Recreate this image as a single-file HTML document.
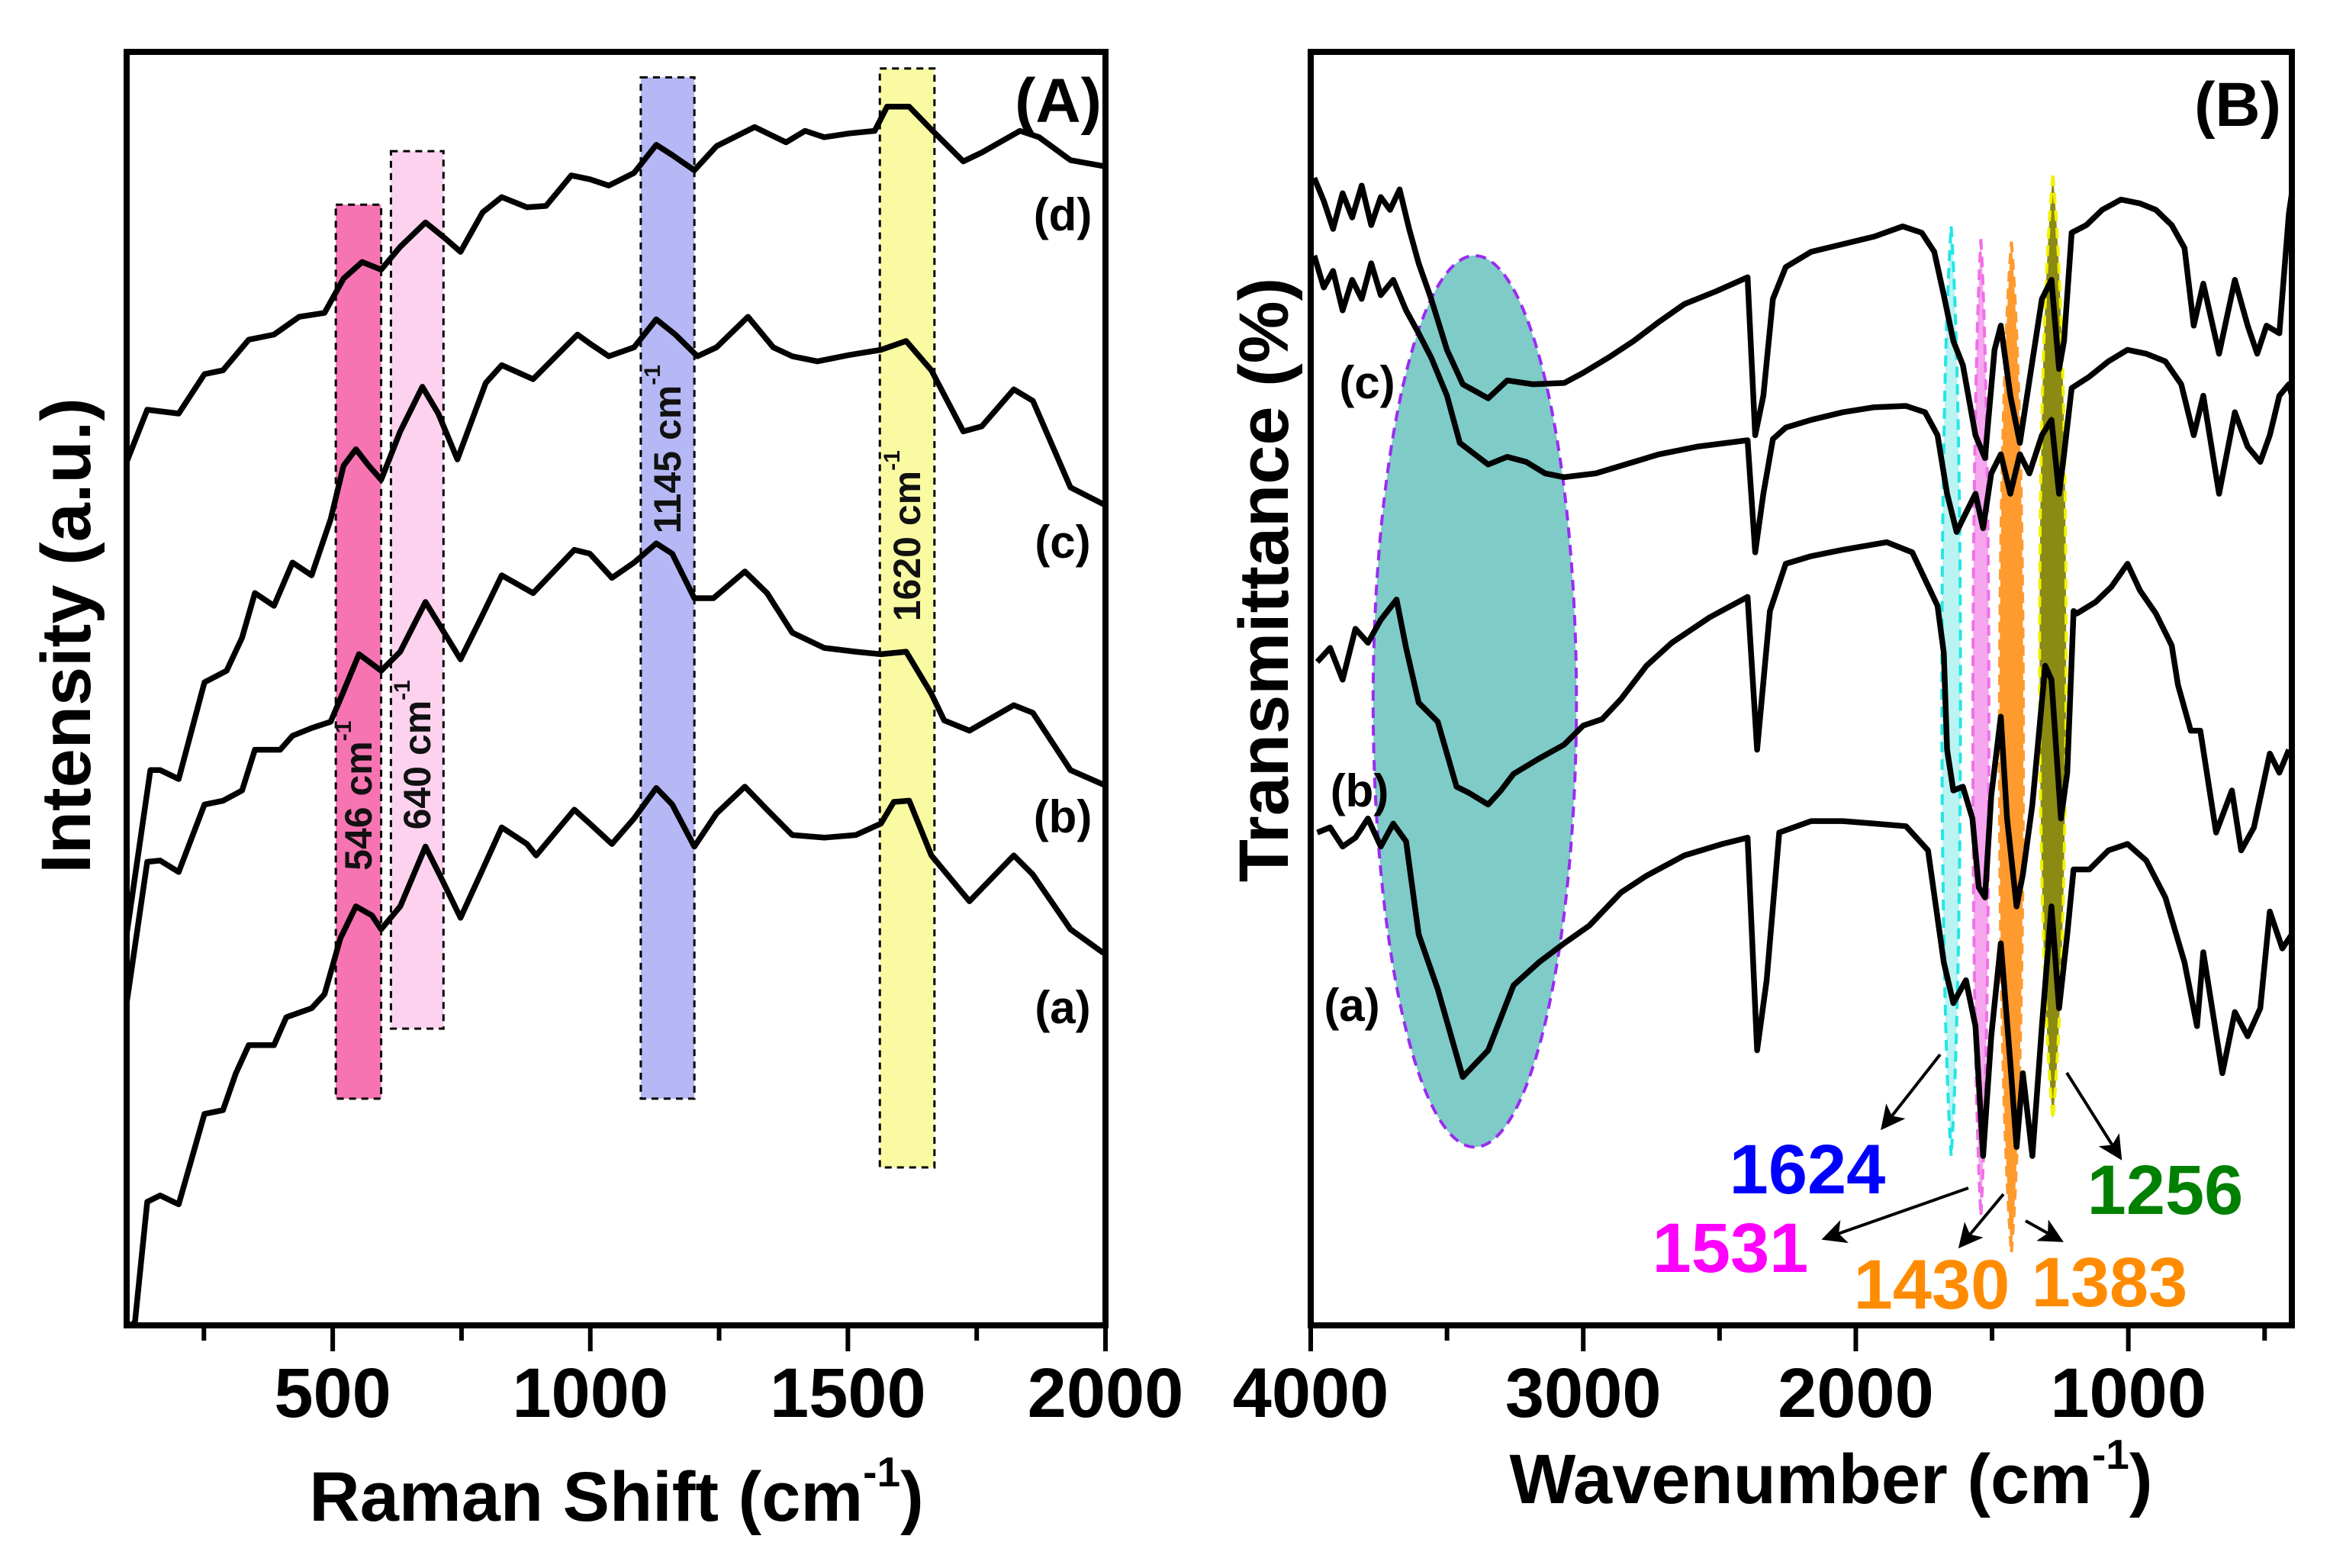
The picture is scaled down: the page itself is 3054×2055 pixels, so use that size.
<!DOCTYPE html>
<html><head><meta charset="utf-8">
<style>
html,body{margin:0;padding:0;background:#fff;}
svg{display:block;font-family:"Liberation Sans",Arial,sans-serif;font-weight:bold;}
</style></head>
<body>
<svg id="fig" width="3054" height="2055" viewBox="0 0 3054 2055" xmlns="http://www.w3.org/2000/svg">
<rect x="0" y="0" width="3054" height="2055" fill="#ffffff"/>
<g id="panelA"></g>
<g id="panelB"></g>
</svg>
<script>
// ---------- Panel A data (Raman) ----------
const ramanXTicks = [500, 1000, 1500, 2000];
const ramanMinorTicks = [250, 750, 1250, 1750];
const ramanA_x = [105,116,140,165,201,251,287,312,337,386,410,459,484,515,545,576,594,631,680,711,748,791,828,877,895,969,999,1042,1085,1128,1159,1202,1245,1300,1343,1392,1454,1515,1564,1589,1619,1662,1736,1822,1859,1932,1994,2000];
const ramanA_y = [0,0.2,9.7,10.2,9.5,16.6,16.9,19.8,22.0,22.0,24.2,24.9,26.0,30.4,32.9,32.2,31.1,32.9,37.6,35.1,32.0,35.8,39.1,37.8,36.9,40.5,39.4,37.8,39.8,42.2,40.9,37.6,40.2,42.3,40.5,38.5,38.3,38.5,39.4,41.1,41.2,36.9,33.3,36.9,35.4,31.1,29.3,29.2];
const ramanB_x = [100,140,165,201,251,287,324,349,398,422,459,496,515,551,594,631,680,748,791,828,889,969,999,1042,1085,1128,1159,1202,1239,1300,1343,1392,1454,1515,1564,1613,1662,1687,1736,1822,1859,1932,1994,2000];
const ramanB_y = [25.3,36.4,36.5,35.6,40.9,41.2,42.0,45.2,45.2,46.3,46.9,47.4,49.2,52.7,51.4,52.9,56.8,52.3,55.8,58.9,57.5,60.9,60.6,58.7,59.9,61.4,60.6,57.1,57.1,59.2,57.5,54.4,53.2,52.9,52.7,52.9,49.6,47.5,46.7,48.7,48.1,43.6,42.5,42.4];
const ramanC_x = [100,146,165,201,251,294,324,349,386,422,459,496,521,545,570,594,631,674,705,742,797,828,889,975,999,1036,1085,1128,1165,1208,1245,1306,1355,1392,1441,1503,1564,1613,1662,1724,1760,1822,1859,1932,2000];
const ramanC_y = [30.7,43.6,43.6,42.9,50.5,51.4,54.0,57.5,56.5,59.9,58.9,63.3,67.5,68.8,67.5,66.4,70.2,73.7,71.6,68.0,74.0,75.4,74.3,77.8,77.1,76.1,76.8,79.0,77.8,76.1,76.8,79.2,76.8,76.1,75.7,76.2,76.6,77.3,75.0,70.2,70.6,73.5,72.6,65.8,64.4];
const ramanD_x = [100,140,201,251,287,337,386,435,484,521,557,594,631,680,717,748,791,828,877,914,963,999,1036,1085,1128,1159,1202,1245,1319,1380,1417,1454,1503,1552,1576,1619,1662,1724,1760,1834,1871,1932,2000];
const ramanD_y = [67.8,71.9,71.6,74.7,75.0,77.4,77.8,79.2,79.5,82.2,83.5,82.9,84.7,86.6,85.4,84.3,87.4,88.6,87.8,87.9,90.3,90.0,89.5,90.5,92.7,91.9,90.7,92.6,94.1,92.9,93.8,93.3,93.6,93.8,95.7,95.7,93.9,91.4,92.1,93.8,93.3,91.5,91.0];
const ramanBandLo = [506, 613, 1098, 1562];
const ramanBandHi = [594, 715, 1202, 1668];
const ramanBandTop = [88.0, 92.2, 98.0, 98.7];
const ramanBandBot = [17.8, 23.3, 17.8, 12.4];
const ramanBandLabels = ["546 cm", "640 cm", "1145 cm", "1620 cm"];
const ramanBandLabelY = [41.6, 44.8, 68.8, 62.0];

// ---------- Panel B data (FTIR) ----------
const ftirXTicks = [4000, 3000, 2000, 1000];
const ftirMinorTicks = [3500, 2500, 1500, 500];
const ftirA_x = [3976,3929,3883,3836,3790,3743,3697,3650,3604,3534,3442,3349,3256,3163,3070,2977,2861,2768,2629,2490,2397,2362,2327,2281,2164,2048,1932,1816,1735,1677,1642,1596,1561,1533,1503,1468,1433,1410,1387,1352,1317,1282,1254,1224,1201,1143,1073,1003,934,864,794,748,725,655,609,562,516,481,435,400];
const ftirA_y = [38.7,39.1,37.6,38.3,39.8,37.6,39.4,38.0,30.7,26.4,19.5,21.6,26.7,28.5,30.0,31.4,34.0,35.3,36.9,37.8,38.3,21.6,27.1,38.7,39.6,39.6,39.4,39.2,37.3,28.5,25.3,27.1,23.5,13.3,22.7,30.0,20.6,14.0,19.8,13.3,23.5,32.9,24.9,30.7,35.8,35.8,37.3,37.8,36.5,33.6,28.5,23.5,29.3,19.8,24.6,22.7,24.9,32.5,29.6,30.7];
const ftirB_x = [3976,3929,3883,3836,3790,3743,3685,3650,3604,3534,3465,3418,3349,3302,3256,3163,3070,3000,2931,2861,2768,2675,2536,2397,2362,2315,2257,2164,2048,1886,1793,1700,1677,1665,1642,1607,1572,1549,1526,1503,1468,1445,1410,1387,1352,1305,1282,1247,1224,1201,1189,1120,1062,1003,957,899,841,818,771,736,678,620,586,539,481,446,411];
const ftirB_y = [52.1,53.2,50.7,54.7,53.6,55.4,57.0,53.2,48.9,47.4,42.3,41.8,40.9,42.0,43.3,44.5,45.6,47.1,47.6,49.2,51.8,53.6,55.6,57.2,45.2,56.1,59.8,60.4,60.9,61.5,60.7,56.5,52.8,45.2,42.0,42.3,39.8,34.4,33.6,41.6,47.8,39.8,32.9,35.4,40.9,51.8,50.7,39.8,43.4,56.1,55.9,56.8,58.0,59.8,57.7,55.9,53.4,50.3,46.7,46.7,38.7,42.0,37.3,39.1,44.9,43.4,45.2];
const ftirC_x = [3987,3952,3918,3883,3848,3813,3778,3743,3697,3650,3604,3558,3500,3453,3349,3279,3209,3140,3070,2954,2861,2722,2582,2397,2369,2339,2304,2257,2164,2048,1932,1816,1746,1700,1665,1630,1596,1561,1533,1503,1468,1433,1398,1363,1317,1282,1254,1236,1208,1143,1073,1003,934,864,806,760,725,667,609,562,516,481,446,411,400];
const ftirC_y = [84.0,81.5,82.8,79.7,82.1,80.6,83.4,80.9,82.1,79.7,77.9,76.0,73.0,69.3,67.6,68.2,67.8,66.9,66.6,66.9,67.5,68.4,69.0,69.5,60.7,65.3,69.6,70.5,71.1,71.7,72.1,72.2,71.7,69.9,65.3,62.3,63.8,65.3,62.6,66.9,68.4,65.3,68.4,66.9,69.9,71.1,65.3,68.4,73.6,74.5,75.7,76.6,76.3,75.7,73.9,69.9,73.0,65.3,71.7,69.0,67.8,69.9,73.0,73.9,73.0];
const ftirD_x = [3987,3952,3918,3883,3848,3813,3778,3743,3709,3674,3639,3604,3558,3500,3442,3349,3279,3186,3070,3000,2907,2815,2722,2629,2513,2397,2369,2339,2304,2257,2164,2048,1932,1828,1758,1712,1677,1642,1607,1561,1526,1491,1468,1433,1398,1363,1317,1282,1254,1236,1208,1154,1096,1027,957,899,841,794,760,725,667,609,562,527,493,446,411,400];
const ftirD_y = [90.1,88.3,86.1,88.9,87.0,89.5,86.4,88.6,87.6,89.2,86.1,83.4,80.6,76.6,73.9,72.8,74.2,73.9,74.0,74.8,76.0,77.3,78.8,80.2,81.2,82.3,69.9,73.0,80.6,83.1,84.3,84.9,85.5,86.3,85.8,84.3,80.9,77.3,75.4,69.9,68.1,76.6,78.5,73.0,69.3,74.2,80.6,82.1,75.1,77.3,85.8,86.4,87.6,88.4,88.1,87.6,86.4,84.6,78.5,81.8,76.3,82.1,78.5,76.3,78.5,77.9,87.3,88.9];
const ftirBandCenter = [1650, 1541, 1429, 1277];
const ftirBandHalfWidth = [35, 30, 45, 50];
const ftirBandTop = [86.3, 85.3, 85.1, 90.3];
const ftirBandBot = [13.3, 8.6, 5.7, 16.2];
const ftirBandFill = ["#b9f3f2", "#f6a6ee", "#ff9a2e", "#8b8a12"];
const ftirBandStroke = ["#22e6e6", "#f070e8", "#ff9a2e", "#f2f200"];
const peakLabels = ["1624", "1531", "1430", "1383", "1256"];
const peakColors = ["#0000ff", "#ff00ff", "#ff8c00", "#ff8c00", "#008000"];

// ---------- helpers ----------
const NS = "http://www.w3.org/2000/svg";
function mk(tag, attrs, parent) {
  const e = document.createElementNS(NS, tag);
  for (const k in attrs) e.setAttribute(k, attrs[k]);
  parent.appendChild(e);
  return e;
}
const PY0 = 1737, PY1 = 68;
function yScale(v) { return PY0 - v / 100 * (PY0 - PY1); }
const AX0 = 166, AX1 = 1449;
function xA(v) { return AX0 + (v - 100) / 1900 * (AX1 - AX0); }
const BX0 = 1718, BX1 = 3004;
function xB(v) { return BX0 + (4000 - v) / 3600 * (BX1 - BX0); }
function pathD(xs, ys, fx) {
  return xs.map((x, i) => (i ? "L" : "M") + fx(x).toFixed(1) + "," + yScale(ys[i]).toFixed(1)).join(" ");
}

// ================= Panel A =================
const gA = document.getElementById("panelA");
for (let i = 0; i < ramanBandLo.length; i++) {
  const fills = ["#f774b2", "#fcd2ee", "#b5b8f5", "#fafaa2"];
  const r = mk("rect", {x: xA(ramanBandLo[i]), y: yScale(ramanBandTop[i]), width: xA(ramanBandHi[i]) - xA(ramanBandLo[i]), height: yScale(ramanBandBot[i]) - yScale(ramanBandTop[i]), fill: fills[i], stroke: "#000", "stroke-width": 3, "stroke-dasharray": "9,7"}, gA);
  
  
}
const ramanSeries = [[ramanA_x, ramanA_y, "a"], [ramanB_x, ramanB_y, "b"], [ramanC_x, ramanC_y, "c"], [ramanD_x, ramanD_y, "d"]];
for (const s of ramanSeries) {
  const p = mk("path", {d: pathD(s[0], s[1], xA), fill: "none", stroke: "#000", "stroke-width": 7.5, "stroke-linejoin": "round"}, gA);
  
  
}
for (let i = 0; i < ramanBandLabels.length; i++) {
  const cx = (xA(ramanBandLo[i]) + xA(ramanBandHi[i])) / 2, cy = yScale(ramanBandLabelY[i]);
  const t = mk("text", {x: cx, y: cy, transform: "rotate(-90 " + cx + " " + cy + ")", "text-anchor": "middle", "dominant-baseline": "central", "font-size": 50, fill: "#111"}, gA);
  t.textContent = ramanBandLabels[i];
  const sup = mk("tspan", {"font-size": 30, dy: -20}, t);
  sup.textContent = "-1";
  
  
}
const fA = mk("rect", {x: AX0, y: PY1, width: AX1 - AX0, height: PY0 - PY1, fill: "none", stroke: "#000", "stroke-width": 8}, gA);


for (const v of ramanXTicks) {
  const l = mk("line", {x1: xA(v), x2: xA(v), y1: PY0, y2: PY0 + 34, stroke: "#000", "stroke-width": 6}, gA);
  
  
  const t = mk("text", {x: xA(v), y: 1857, "text-anchor": "middle", "font-size": 92}, gA);
  t.textContent = v;
  
  
}
for (const v of ramanMinorTicks) {
  const l = mk("line", {x1: xA(v), x2: xA(v), y1: PY0, y2: PY0 + 20, stroke: "#000", "stroke-width": 6}, gA);
  
  
}
{
  const t = mk("text", {x: 808, y: 1993, "text-anchor": "middle", "font-size": 92}, gA);
  t.textContent = "Raman Shift (cm";
  const s = mk("tspan", {"font-size": 55, dy: -45}, t); s.textContent = "-1";
  const s2 = mk("tspan", {dy: 45}, t); s2.textContent = ")";
  
  
  const y = mk("text", {x: 0, y: 0, transform: "translate(118 833) rotate(-90)", "text-anchor": "middle", "font-size": 92}, gA);
  y.textContent = "Intensity (a.u.)";
  
  
  const pl = mk("text", {x: 1387, y: 160, "text-anchor": "middle", "font-size": 82}, gA);
  pl.textContent = "(A)";
  
  
  const labs = [["(d)", 302], ["(c)", 731], ["(b)", 1091], ["(a)", 1341]];
  for (const L of labs) {
    const e = mk("text", {x: 1393, y: L[1], "text-anchor": "middle", "font-size": 60}, gA);
    e.textContent = L[0];
    
    
  }
}

// ================= Panel B =================
const gB = document.getElementById("panelB");
{
  const cx = xB(3398), cy = yScale(49), rx = xB(3398) - xB(3771), ry = yScale(14) - yScale(49);
  const e = mk("ellipse", {cx: cx, cy: cy, rx: rx, ry: ry, fill: "#7fcbc8", stroke: "#9a2cf0", "stroke-width": 4, "stroke-dasharray": "14,9"}, gB);
  
  
}
for (let i = 0; i < ftirBandCenter.length; i++) {
  const cx = xB(ftirBandCenter[i]);
  const w = xB(ftirBandCenter[i] - ftirBandHalfWidth[i]) - cx;
  const top = yScale(ftirBandTop[i]), bot = yScale(ftirBandBot[i]), h = bot - top;
  const d = "M" + cx + "," + top + " C" + (cx + w * 1.3) + "," + (top + h * 0.2) + " " + (cx + w * 1.3) + "," + (bot - h * 0.2) + " " + cx + "," + bot +
            " C" + (cx - w * 1.3) + "," + (bot - h * 0.2) + " " + (cx - w * 1.3) + "," + (top + h * 0.2) + " " + cx + "," + top + " Z";
  const p = mk("path", {d: d, fill: ftirBandFill[i], stroke: ftirBandStroke[i], "stroke-width": 4, "stroke-dasharray": "14,9"}, gB);
  
  
}
const ftirSeries = [[ftirA_x, ftirA_y, "a"], [ftirB_x, ftirB_y, "b"], [ftirC_x, ftirC_y, "c"], [ftirD_x, ftirD_y, "d"]];
for (const s of ftirSeries) {
  const p = mk("path", {d: pathD(s[0], s[1], xB), fill: "none", stroke: "#000", "stroke-width": 7.5, "stroke-linejoin": "round"}, gB);
  
  
}
const fB = mk("rect", {x: BX0, y: PY1, width: BX1 - BX0, height: PY0 - PY1, fill: "none", stroke: "#000", "stroke-width": 8}, gB);


for (const v of ftirXTicks) {
  const l = mk("line", {x1: xB(v), x2: xB(v), y1: PY0, y2: PY0 + 34, stroke: "#000", "stroke-width": 6}, gB);
  
  
  const t = mk("text", {x: xB(v), y: 1857, "text-anchor": "middle", "font-size": 92}, gB);
  t.textContent = v;
  
  
}
for (const v of ftirMinorTicks) {
  const l = mk("line", {x1: xB(v), x2: xB(v), y1: PY0, y2: PY0 + 20, stroke: "#000", "stroke-width": 6}, gB);
  
  
}
{
  const t = mk("text", {x: 2400, y: 1970, "text-anchor": "middle", "font-size": 92}, gB);
  t.textContent = "Wavenumber (cm";
  const s = mk("tspan", {"font-size": 55, dy: -45}, t); s.textContent = "-1";
  const s2 = mk("tspan", {dy: 45}, t); s2.textContent = ")";
  
  
  const y = mk("text", {x: 0, y: 0, transform: "translate(1688 760) rotate(-90)", "text-anchor": "middle", "font-size": 92}, gB);
  y.textContent = "Transmittance (%)";
  
  
  const pl = mk("text", {x: 2933, y: 165, "text-anchor": "middle", "font-size": 82}, gB);
  pl.textContent = "(B)";
  
  
  const labs = [["(c)", 1792, 522], ["(b)", 1782, 1057], ["(a)", 1772, 1338]];
  for (const L of labs) {
    const e = mk("text", {x: L[1], y: L[2], "text-anchor": "middle", "font-size": 60}, gB);
    e.textContent = L[0];
    
    
  }
  const labX = [2369, 2268, 2532, 2765, 2838];
  const labY = [1564, 1667, 1715, 1712, 1591];
  for (let i = 0; i < peakLabels.length; i++) {
    const e = mk("text", {x: labX[i], y: labY[i], "text-anchor": "middle", "font-size": 92, fill: peakColors[i]}, gB);
    e.textContent = peakLabels[i];
    
    
  }
  const defs = mk("defs", {}, gB);
  const mrk = mk("marker", {id: "ah", markerWidth: 8, markerHeight: 8, refX: 6, refY: 4, orient: "auto", markerUnits: "strokeWidth"}, defs);
  mk("path", {d: "M0,0 L8,4 L0,8 L2,4 Z", fill: "#000"}, mrk);
  const arrows = [[2543, 1382, 2470, 1475], [2580, 1557, 2395, 1622], [2626, 1565, 2572, 1630], [2655, 1600, 2698, 1624], [2709, 1406, 2777, 1514]];
  arrows.forEach((a, i) => {
    const l = mk("line", {x1: a[0], y1: a[1], x2: a[2], y2: a[3], stroke: "#000", "stroke-width": 4, "marker-end": "url(#ah)"}, gB);
    
    
  });
}
</script>
</body></html>
